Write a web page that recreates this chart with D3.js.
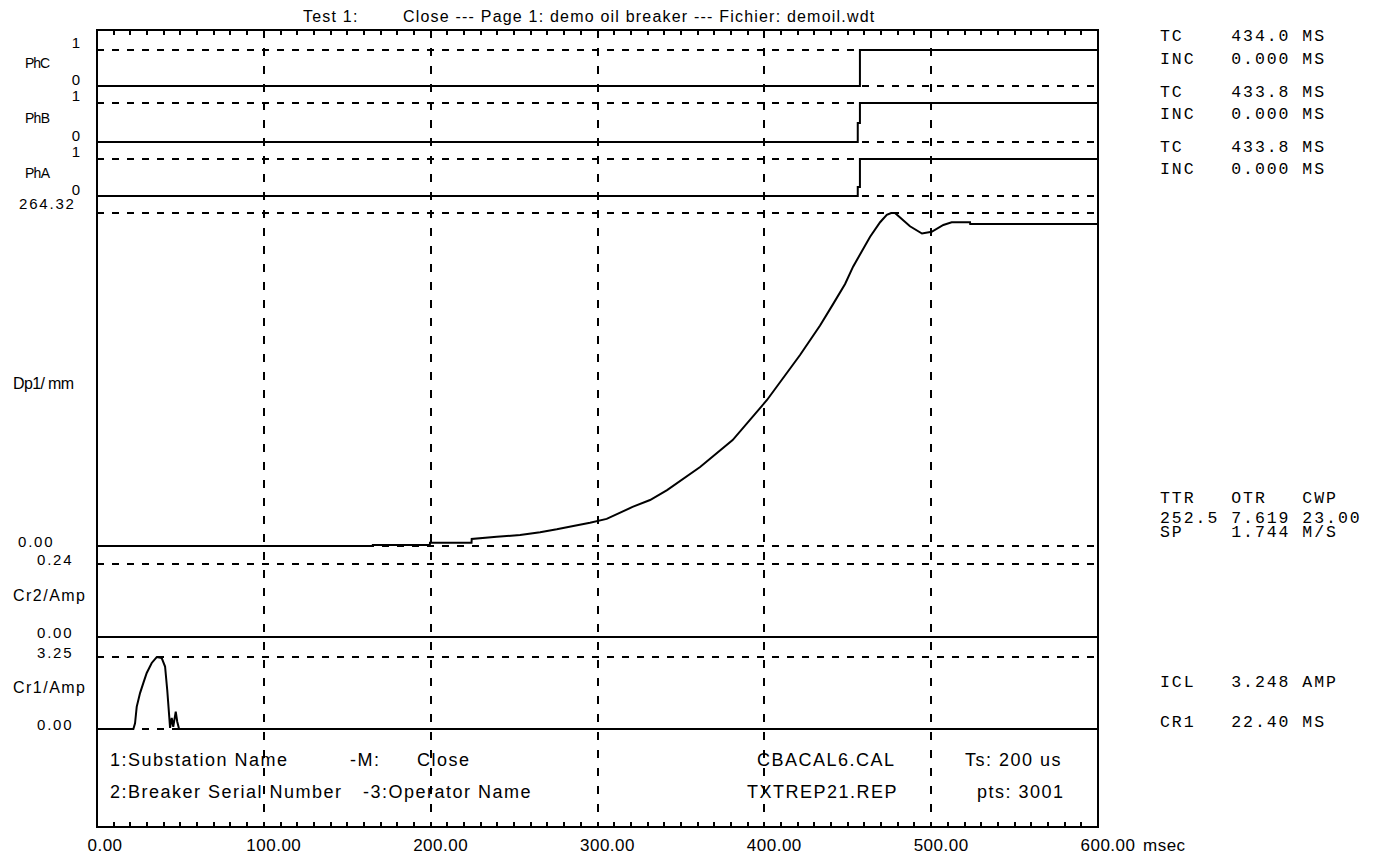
<!DOCTYPE html>
<html>
<head>
<meta charset="utf-8">
<script src="https://cdn.jsdelivr.net/npm/d3@7/dist/d3.min.js"></script>
<style>
body { margin: 0; background: #fff; }
svg { display: block; }
.sans { font-family: "Liberation Sans", Arial, sans-serif; fill: #000; }
.mono { font-family: "Liberation Mono", "Courier New", monospace; fill: #000; white-space: pre; }
</style>
</head>
<body>
<svg id="chart" width="1380" height="857"></svg>
<script>
// time axis (ms)
const timeTicks = [0, 100, 200, 300, 400, 500, 600];
const timeUnit = "msec";

// channels, top to bottom
const channelNames = ["PhC", "PhB", "PhA", "Dp1/ mm", "Cr2/Amp", "Cr1/Amp"];
const channelMax = [1, 1, 1, 264.32, 0.24, 3.25];
const maxLabels = ["1", "1", "1", "264.32", "0.24", "3.25"];
const zeroLabels = ["0", "0", "0", "0.00", "0.00", "0.00"];

// contact signals [ms, state]
const phC = [[0, 0], [457.3, 0], [457.3, 1], [600, 1]];
const phB = [[0, 0], [456.0, 0], [456.0, 0.49], [457.3, 0.49], [457.3, 1], [600, 1]];
const phA = [[0, 0], [456.0, 0], [456.0, 0.24], [457.3, 0.24], [457.3, 1], [600, 1]];

// travel [ms, mm]
const dp1 = [[0, 0], [165.2, 0], [165.3, 0.8], [199.5, 0.8], [199.6, 2.6], [224.5, 2.6], [224.6, 5.6],
  [239.6, 7.4], [253.6, 8.7], [265.6, 11.0], [275.6, 13.3], [285.5, 15.9], [295.5, 18.5], [305.5, 21.5],
  [321, 31], [331.5, 36.5], [341.7, 44.4], [361.5, 62.7], [381, 84.1], [401.6, 115.9], [421.4, 151.6],
  [433.4, 175], [441.2, 192], [448.4, 208], [453.2, 221.7], [463.4, 245.5], [469.4, 257], [473.4, 262.8],
  [476, 264.32], [478.3, 264.32], [487.3, 253.8], [494.5, 248], [500.3, 249.4], [507.3, 254.8],
  [512.3, 256.9], [523.3, 256.9], [523.4, 255.6], [600, 255.6]];

// coil currents [ms, A]
const cr2 = [[0, 0], [600, 0]];
const cr1 = [[0, 0], [21.8, 0], [22.8, 0.26], [23.8, 1.0], [25.8, 1.62], [27.8, 2.08], [29.8, 2.53],
  [32.8, 2.98], [35.8, 3.25], [38.8, 3.2], [40.8, 2.82], [42.1, 1.76], [43.3, 0.56], [43.8, 0.05],
  [44.8, 0.5], [45.7, 0.1], [47.2, 0.78], [48.1, 0.33], [49.2, 0], [600, 0]];

const series = [phC, phB, phA, dp1, cr2, cr1];

// texts
const titleParts = ["Test 1:", "Close --- Page 1: demo oil breaker --- Fichier: demoil.wdt"];
const contactReadouts = [["TC", "434.0 MS"], ["INC", "0.000 MS"], ["TC", "433.8 MS"], ["INC", "0.000 MS"], ["TC", "433.8 MS"], ["INC", "0.000 MS"]];
const travelHeads = ["TTR", "OTR", "CWP"];
const travelValues = ["252.5", "7.619", "23.00"];
const speedReadout = ["SP", "1.744 M/S"];
const coilReadouts = [["ICL", "3.248 AMP"], ["CR1", "22.40 MS"]];
const infoLine1 = ["1:Substation Name", "-M:", "Close", "CBACAL6.CAL", "Ts: 200 us"];
const infoLine2 = ["2:Breaker Serial Number", "-3:Operator Name", "TXTREP21.REP", "pts: 3001"];

const svg = d3.select("#chart");
svg.append("rect").attr("width", 1380).attr("height", 857).attr("fill", "#fff");

const plotL = 97, plotR = 1098, plotT = 30, plotB = 827;
const x = d3.scaleLinear().domain([0, 600]).range([plotL, plotR]);

// pixel rows of zero / full scale for each channel band
const bandZero = [86, 142, 196, 546, 637, 729];
const bandTop = [50, 103, 159, 213, 564, 657];
const yScales = channelMax.map((m, i) => d3.scaleLinear().domain([0, m]).range([bandZero[i], bandTop[i]]));

// dashed horizontal levels
const grid = svg.append("g").attr("stroke", "#000").attr("stroke-width", 2)
  .attr("shape-rendering", "crispEdges").attr("fill", "none");
channelMax.forEach((m, i) => {
  [0, m].forEach(v => {
    grid.append("line")
      .attr("x1", plotL).attr("x2", plotR)
      .attr("y1", yScales[i](v)).attr("y2", yScales[i](v))
      .attr("stroke-dasharray", "7,8");
  });
});

// dashed vertical grid
grid.selectAll(".vgrid")
  .data(timeTicks.slice(1, -1))
  .enter()
  .append("line")
  .attr("x1", d => Math.round(x(d))).attr("x2", d => Math.round(x(d)))
  .attr("y1", plotT).attr("y2", plotB)
  .attr("stroke-dasharray", "8,10");

// frame + minor ticks
grid.append("rect")
  .attr("x", plotL).attr("y", plotT)
  .attr("width", plotR - plotL).attr("height", plotB - plotT);

const minor = d3.range(10, 600, 10);
grid.selectAll(".tickTop")
  .data(minor).enter().append("line")
  .attr("x1", d => Math.round(x(d))).attr("x2", d => Math.round(x(d)))
  .attr("y1", plotT).attr("y2", plotT + 5);
grid.selectAll(".tickBot")
  .data(minor).enter().append("line")
  .attr("x1", d => Math.round(x(d))).attr("x2", d => Math.round(x(d)))
  .attr("y1", plotB).attr("y2", plotB - 5);

// signal traces
series.forEach((s, i) => {
  const line = d3.line().x(d => x(d[0])).y(d => yScales[i](d[1]));
  svg.append("path")
    .datum(s)
    .attr("d", line)
    .attr("fill", "none")
    .attr("stroke", "#000")
    .attr("stroke-width", 2);
});

// title
svg.append("text").attr("class", "sans")
  .attr("x", 303).attr("y", 22)
  .attr("font-size", 16).attr("letter-spacing", 1.2)
  .text(titleParts[0]);
svg.append("text").attr("class", "sans")
  .attr("x", 403).attr("y", 22)
  .attr("font-size", 16).attr("letter-spacing", 1.2)
  .text(titleParts[1]);

// left labels
const nameX = [25, 25, 25, 13, 13, 13];
const nameW = [25, 25, 25, 61, 72, 72];
const nameDy = [0, 0, 0, 9, 0, 0];
channelNames.forEach((n, i) => {
  svg.append("text").attr("class", "sans")
    .attr("x", nameX[i])
    .attr("y", Math.round((bandZero[i] + bandTop[i]) / 2) + nameDy[i])
    .attr("font-size", i < 3 ? 14 : 16)
    .attr("textLength", nameW[i])
    .attr("lengthAdjust", "spacing")
    .text(n);
});

channelMax.forEach((m, i) => {
  const phase = i < 3;
  const t = svg.append("text").attr("class", "sans")
    .attr("font-size", 15)
    .attr("letter-spacing", phase ? 0 : 1.8);
  if (phase) {
    t.attr("x", 80).attr("text-anchor", "end").attr("y", bandTop[i] - 2);
  } else {
    t.attr("x", i === 3 ? 19 : 37).attr("y", i === 3 ? bandTop[i] - 4 : bandTop[i] + 1);
  }
  t.text(maxLabels[i]);

  const z = svg.append("text").attr("class", "sans")
    .attr("font-size", 15)
    .attr("letter-spacing", phase ? 0 : 1.8);
  if (phase) {
    z.attr("x", 80).attr("text-anchor", "end").attr("y", bandZero[i] - 1);
  } else {
    z.attr("x", i === 3 ? 18 : 37).attr("y", bandZero[i] + 1);
  }
  z.text(zeroLabels[i]);
});

// x tick labels
svg.selectAll(".xlab")
  .data(timeTicks)
  .enter()
  .append("text")
  .attr("class", "sans")
  .attr("x", d => x(d) + (d === 0 ? 8 : 10))
  .attr("y", 851)
  .attr("text-anchor", "middle")
  .attr("font-size", 17)
  .attr("letter-spacing", 0.5)
  .text(d => d3.format(".2f")(d));
svg.append("text").attr("class", "sans")
  .attr("x", 1143).attr("y", 851)
  .attr("font-size", 17).attr("letter-spacing", 0.5)
  .text(timeUnit);

// info block inside the plot
const info1X = [110, 350, 417, 757, 965];
const info2X = [110, 363, 747, 977];
infoLine1.forEach((s, i) => {
  svg.append("text").attr("class", "sans")
    .attr("x", info1X[i]).attr("y", 766)
    .attr("font-size", 18).attr("letter-spacing", 1.5)
    .text(s);
});
infoLine2.forEach((s, i) => {
  svg.append("text").attr("class", "sans")
    .attr("x", info2X[i]).attr("y", 798)
    .attr("font-size", 18).attr("letter-spacing", 1.5)
    .text(s);
});

// right readout panel (monospace, 11.86px cells)
function mono(str, y) {
  svg.append("text").attr("class", "mono")
    .attr("xml:space", "preserve")
    .attr("x", 1160).attr("y", y)
    .attr("font-size", 16.5)
    .attr("letter-spacing", 1.96)
    .text(str);
}
const contactY = [41, 64, 97, 119, 152, 174];
contactReadouts.forEach((r, i) => mono(r[0].padEnd(6) + r[1], contactY[i]));
mono(travelHeads.map(s => s.padEnd(6)).join("").trimEnd(), 503);
mono(travelValues.join(" "), 523);
mono(speedReadout[0].padEnd(6) + speedReadout[1], 537);
const coilY = [687, 727];
coilReadouts.forEach((r, i) => mono(r[0].padEnd(6) + r[1], coilY[i]));
</script>
</body>
</html>
